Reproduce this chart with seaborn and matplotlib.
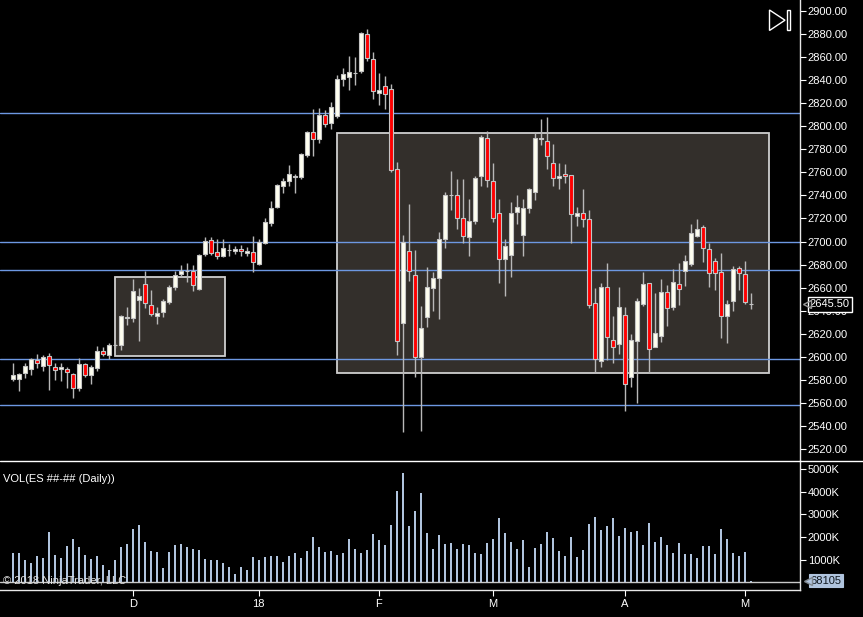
import numpy as np
import pandas as pd
import seaborn as sns
import matplotlib
matplotlib.use("Agg")
import matplotlib.pyplot as plt
import matplotlib.transforms as mtransforms
from matplotlib.patches import Rectangle, Polygon
from matplotlib.lines import Line2D

# daily ES bars (bar index 0 = first bar on the left)
opens = [2581, 2580.5, 2586.25, 2589, 2597, 2592.25, 2600.5, 2591, 2589, 2589,
         2585.5, 2573.25, 2593.5, 2584.5, 2590.5, 2604.75, 2601.75, 2610.25, 2610.5, 2634,
         2634, 2649.5, 2663, 2644.5, 2635.75, 2639, 2647.75, 2660.75, 2672, 2674.5,
         2674, 2658.5, 2689, 2701, 2690.5, 2687.25, 2692.25, 2692, 2693.25, 2689.75,
         2690.5, 2680.5, 2699, 2715.75, 2730.25, 2748, 2752.25, 2756.25, 2755.75, 2774.75,
         2795.25, 2788.75, 2809.5, 2802.5, 2809.25, 2840.75, 2842.5, 2846.25, 2847.5, 2879.75,
         2858.5, 2829.25, 2834.5, 2832, 2762.5, 2629.5, 2691.5, 2670.75, 2599.5, 2634.25,
         2659.5, 2668.75, 2702, 2740.25, 2740, 2720, 2704.25, 2718, 2757, 2789.5,
         2752.25, 2724.5, 2684.5, 2688.5, 2725.25, 2706, 2729.5, 2742.75, 2789.25, 2787.5,
         2767.75, 2755, 2758.25, 2757.5, 2722.5, 2724.5, 2719.25, 2646.5, 2596, 2660.25,
         2614.25, 2610.75, 2636, 2582.25, 2613.5, 2646, 2663.75, 2608.25, 2618.25, 2656,
         2643.5, 2663, 2674, 2680.25, 2705, 2712.25, 2693.25, 2683.5, 2673.25, 2635.75,
         2648.75, 2676.75, 2671.75, 2645.75]
highs = [2594.25, 2586.25, 2594.25, 2599.25, 2602.5, 2601.5, 2603, 2594.25, 2594.25, 2591.5,
         2585.75, 2598.75, 2595, 2593, 2609.5, 2608.75, 2611.75, 2611.75, 2636.5, 2643,
         2667.25, 2659.75, 2674.75, 2658, 2643, 2650, 2662.25, 2674.75, 2679.5, 2681,
         2679.5, 2689.25, 2704.25, 2704.25, 2702.25, 2702.25, 2698, 2696, 2697, 2695,
         2704.75, 2702.25, 2720, 2735.25, 2750, 2754.75, 2766.5, 2758.5, 2776.5, 2796,
         2814.75, 2815.5, 2814, 2820.75, 2844.5, 2850.25, 2861, 2859.75, 2881.5, 2884,
         2864, 2846, 2843.5, 2836.75, 2768.75, 2705.75, 2732.5, 2692.5, 2644, 2678,
         2673.25, 2708.25, 2742.75, 2761.25, 2754, 2754.25, 2737, 2757, 2792.5, 2796,
         2767.75, 2737, 2702, 2734, 2740.5, 2737, 2746.5, 2794, 2806.25, 2808.25,
         2784.5, 2767.75, 2767.25, 2757.5, 2729.75, 2745.5, 2727.5, 2659.5, 2663.75, 2681,
         2635.5, 2660.25, 2643.5, 2619.5, 2650.75, 2673.5, 2663.75, 2655, 2667.25, 2662.25,
         2676.25, 2681, 2688.25, 2715.25, 2719.25, 2714.25, 2699, 2685.5, 2689.75, 2649.25,
         2678.75, 2678.75, 2683, 2655]
lows = [2579.25, 2570.5, 2581.5, 2584.25, 2590, 2588, 2571.25, 2580, 2579.25, 2573.25,
        2564.5, 2570.5, 2582.75, 2576.5, 2588, 2600.75, 2597.75, 2608, 2606, 2627.5,
        2630.5, 2613.75, 2642.25, 2635.5, 2628.5, 2634.25, 2645.75, 2658, 2669.5, 2665.25,
        2657.5, 2658, 2687.75, 2688.25, 2685, 2686.25, 2687.5, 2689.25, 2687, 2687,
        2673.75, 2680, 2697.75, 2713.75, 2729.5, 2742.5, 2748.5, 2742.5, 2754, 2773,
        2774.5, 2785.25, 2799, 2797.25, 2807.5, 2834.5, 2831, 2836, 2846.5, 2857,
        2823.75, 2818.5, 2815, 2760.5, 2601.5, 2535, 2666, 2582.75, 2536, 2626,
        2640, 2632.75, 2694, 2727.25, 2711, 2699, 2687.75, 2715.25, 2748.5, 2747.5,
        2717.25, 2664.25, 2653, 2669.5, 2715.25, 2687, 2725, 2736, 2783.75, 2763,
        2748.25, 2745.25, 2751, 2698.5, 2713.5, 2713, 2642, 2587, 2591.5, 2597.25,
        2594.25, 2602, 2553.25, 2574, 2560.25, 2644, 2586.25, 2608.25, 2613, 2626.75,
        2640.5, 2645, 2661.5, 2679, 2704.25, 2682.25, 2660.25, 2658, 2616.5, 2612.25,
        2639.75, 2658, 2645.75, 2641.5]
closes = [2584, 2585.5, 2592, 2597.75, 2595, 2599.5, 2592.5, 2588.25, 2591, 2586.5,
          2573.25, 2593.5, 2584.5, 2591, 2605, 2602.75, 2610, 2610.5, 2635.5, 2634.25,
          2657, 2652.75, 2647, 2636.75, 2638, 2648, 2660.25, 2670.75, 2674.5, 2674.75,
          2662, 2688.25, 2700.25, 2689.75, 2687.25, 2694, 2692.5, 2693.5, 2691.5, 2691.5,
          2682, 2699.75, 2716.5, 2729.5, 2748.75, 2752.25, 2758.25, 2756.5, 2775.5, 2794.75,
          2788.5, 2809.5, 2801.75, 2816.5, 2840.75, 2845, 2846.75, 2846.5, 2880.5, 2859,
          2830.25, 2831.25, 2828.25, 2762.25, 2614, 2700, 2674, 2599.5, 2624.75, 2660.75,
          2668, 2702.5, 2740, 2740.5, 2720, 2704.5, 2717.5, 2754.75, 2790.5, 2753,
          2720, 2684.5, 2695.75, 2724.5, 2729.75, 2728.75, 2745.25, 2789.5, 2789.5, 2774,
          2754.75, 2757, 2756.5, 2723.5, 2724.5, 2719.25, 2644.5, 2598.5, 2660.25, 2617,
          2608.25, 2643.5, 2576, 2614.25, 2648, 2663, 2606.5, 2620.25, 2656, 2642,
          2664.5, 2658.5, 2682.75, 2707, 2710.5, 2694, 2672.5, 2672.5, 2635.75, 2645.5,
          2676.25, 2672.5, 2647.75, 2645.5]
volume_k = [1296, 1296, 987, 854, 1149, 1075, 2224, 1208, 1075, 1606,
            1915, 1561, 1208, 1031, 1164, 766, 545, 987, 1561, 1694,
            2357, 2534, 1782, 1385, 1340, 633, 1340, 1650, 1694, 1561,
            1473, 1429, 1031, 987, 987, 854, 678, 368, 678, 545,
            1119, 987, 1119, 1164, 1164, 899, 1164, 1296, 1075, 1385,
            2003, 1561, 1340, 1385, 1208, 1296, 1915, 1473, 1296, 1429,
            2136, 1871, 1650, 2534, 4036, 4831, 2489, 3152, 3948, 2180,
            1473, 2092, 1694, 1738, 1473, 1694, 1650, 1296, 1252, 1738,
            1915, 2843, 2180, 1782, 1473, 1871, 678, 1517, 1694, 2224,
            1959, 1385, 1164, 2003, 1119, 1429, 2578, 2887, 2313, 2489,
            2843, 2047, 2401, 2224, 2268, 1650, 2622, 1782, 2003, 1650,
            1296, 1738, 1252, 1252, 1075, 1606, 1606, 1252, 2357, 1915,
            1296, 1164, 1340, 68.105]

date_ticks = [20, 41, 61, 80, 102, 122]
date_labels = ["D", "18", "F", "M", "A", "M"]
price_ticks = list(range(2520, 2901, 20))
vol_ticks = [1000, 2000, 3000, 4000, 5000]

# drawn objects: horizontal levels and rectangles (bar index / price)
levels = [2811.25, 2700, 2675, 2598, 2558]
box_x0 = [17.1, 54.1]
box_x1 = [35.3, 126.0]
box_lo = [2601, 2585.75]
box_hi = [2669, 2794]

last_price = 2645.50
last_volume = 68105

UP = "#fffff0"
DOWN = "#ff0000"
EDGE = "#c4c4c4"
WICK = "#b8b8b8"
LEVEL = "#6d98e2"
BOXFILL = "#332f2b"
VOLC = "#b0c4de"

sns.set_theme(style="dark", rc={
    "axes.facecolor": "black", "figure.facecolor": "black",
    "axes.edgecolor": "white", "axes.grid": False,
    "xtick.color": "white", "ytick.color": "white",
    "text.color": "white",
})
plt.rcParams["font.family"] = ["Liberation Sans", "DejaVu Sans"]

W, H = 863, 617
fig = plt.figure(figsize=(W / 100, H / 100), dpi=100)

def px_axes(x0, y0, x1, y1):
    return fig.add_axes([x0 / W, 1 - y1 / H, (x1 - x0) / W, (y1 - y0) / H])

ax = px_axes(0, 0, 800, 461)
axv = px_axes(0, 461, 800, 590)

df = pd.DataFrame({"open": opens, "high": highs, "low": lows, "close": closes,
                   "volume": volume_k})
df["bar"] = np.arange(len(df))
up = df["close"] >= df["open"]

# boxes and levels
for x0, x1, lo, hi in zip(box_x0, box_x1, box_lo, box_hi):
    ax.add_patch(Rectangle((x0, lo), x1 - x0, hi - lo, facecolor=BOXFILL,
                           edgecolor="#cfcfcf", lw=1.3, zorder=1))
for lv in levels:
    ax.axhline(lv, color=LEVEL, lw=1, zorder=1.5)

# candles
ax.vlines(df["bar"], df["low"], df["high"], color=WICK, lw=1, zorder=2)
body_lo = np.minimum(df["open"], df["close"])
body_h = np.abs(df["close"] - df["open"])
ax.bar(df["bar"], body_h, bottom=body_lo, width=0.62,
       color=np.where(up, UP, DOWN), edgecolor=EDGE, linewidth=0.8, zorder=3)

ax.set_xlim(-2.12, 131.2)
ax.set_ylim(2509.6, 2909.5)
ax.set_xticks([])
ax.yaxis.tick_right()
ax.set_yticks(price_ticks)
ax.set_yticklabels([f"{p:.2f}" for p in price_ticks])
ax.tick_params(axis="y", direction="out", length=4.5, width=0.8, pad=1,
               labelsize=8, colors="white", right=True, left=False)
for s in ["left", "top", "bottom"]:
    ax.spines[s].set_visible(False)
ax.spines["right"].set_color("#e8e8e8")
ax.spines["right"].set_linewidth(1)

# last price marker
tr = mtransforms.offset_copy(ax.get_yaxis_transform(), fig=fig, x=5.2, y=0, units="points")
ax.annotate(f"{last_price:.2f}", xy=(1, last_price), xycoords=ax.get_yaxis_transform(),
            xytext=(7, 0), textcoords="offset points", ha="left", va="center",
            fontsize=8, color="white", annotation_clip=False, zorder=10,
            bbox=dict(boxstyle="square,pad=0.2", fc="black", ec="white", lw=1))
ax.plot([1], [last_price], marker="<", ms=6, mfc="none", mec="#9a9a9a",
        transform=tr, clip_on=False, zorder=11)

# volume panel
sns.barplot(data=df, x="bar", y="volume", native_scale=True, width=0.33,
            color=VOLC, saturation=1, errorbar=None, linewidth=0, ax=axv)
axv.axhline(0, color="#c8c8c8", lw=1, zorder=0.5)
axv.set_xlim(-2.12, 131.2)
axv.set_ylim(-341, 5367)
axv.set_xlabel("")
axv.set_ylabel("")
axv.set_xticks(date_ticks)
axv.set_xticklabels(date_labels)
axv.yaxis.tick_right()
axv.set_yticks(vol_ticks)
axv.set_yticklabels([f"{v}K" for v in vol_ticks])
axv.tick_params(axis="y", direction="out", length=4.5, width=0.8, pad=1,
                labelsize=8, colors="white", right=True, left=False)
axv.tick_params(axis="x", direction="out", length=4.5, width=0.8, pad=2,
                labelsize=8, colors="white", bottom=True)
for s in ["left", "top"]:
    axv.spines[s].set_visible(False)
for s in ["right", "bottom"]:
    axv.spines[s].set_color("#e8e8e8")
    axv.spines[s].set_linewidth(1)

trv = mtransforms.offset_copy(axv.get_yaxis_transform(), fig=fig, x=6, y=0, units="points")
axv.annotate(f"{last_volume}", xy=(1, last_volume / 1000), xycoords=axv.get_yaxis_transform(),
             xytext=(7.5, 0), textcoords="offset points", ha="left", va="center",
             fontsize=8, color="#101820", annotation_clip=False, zorder=10,
             bbox=dict(boxstyle="square,pad=0.15", fc=VOLC, ec=VOLC, lw=0.8))
axv.plot([1], [last_volume / 1000], marker="<", ms=6, mfc=VOLC, mec="#808890",
         transform=trv, clip_on=False, zorder=11)

axv.text(3 / 800, 0.86, "VOL(ES ##-## (Daily))", transform=axv.transAxes,
         fontsize=8, color="white", ha="left", va="center")
axv.text(3 / 800, 0.07, "\u00a9 2018 NinjaTrader, LLC", transform=axv.transAxes,
         fontsize=8, color="#e0e0e0", ha="left", va="center", zorder=5)

# panel separator across the full width
fig.add_artist(Line2D([0, 1], [1 - 461 / H, 1 - 461 / H], transform=fig.transFigure,
                      color="white", lw=1))

# play-to-end icon
tri = np.array([[769.5, 10], [769.5, 30.5], [785, 20.2]])
fig.add_artist(Polygon(np.column_stack([tri[:, 0] / W, 1 - tri[:, 1] / H]), closed=True,
                       fill=False, ec="white", lw=1, transform=fig.transFigure))
fig.add_artist(Rectangle((786.5 / W, 1 - 30 / H), 3.5 / W, 20 / H, fill=False,
                         ec="white", lw=1, transform=fig.transFigure))

fig.savefig("out.png", dpi=100, facecolor="black")
